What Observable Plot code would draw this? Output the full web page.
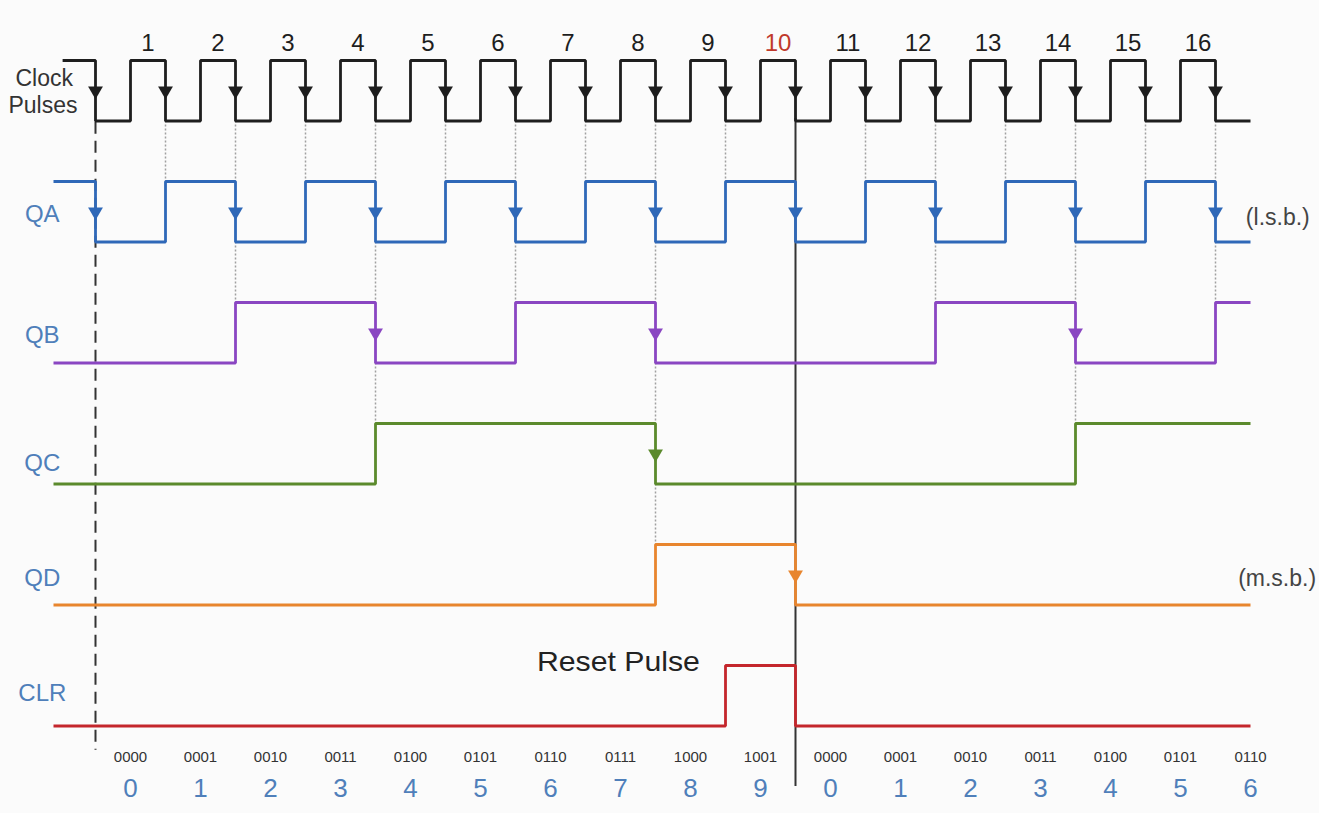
<!DOCTYPE html>
<html><head><meta charset="utf-8">
<script src="https://cdn.jsdelivr.net/npm/d3@7"></script>
<script src="https://cdn.jsdelivr.net/npm/@observablehq/plot@0.6"></script>
<style>body{margin:0;background:#fbfbfb;}svg{display:block;}</style>
</head><body><div id="chart"></div>
<script>
// Signals: name, row, initial level, toggle times (in clock-edge units), start time
const signalNames = ["Clock", "QA", "QB", "QC", "QD", "CLR"];
const signalColors = ["#1e1e1e", "#2f68b8", "#8a46c2", "#5b8a2c", "#e8852e", "#c4262c"];
const initialLevels = [1, 1, 0, 0, 0, 0];
const startTimes = [-0.47, -0.6, -0.6, -0.6, -0.6, -0.6];
const endTime = 16.5;
const clockToggles = [0,0.5,1,1.5,2,2.5,3,3.5,4,4.5,5,5.5,6,6.5,7,7.5,8,8.5,9,9.5,10,10.5,11,11.5,12,12.5,13,13.5,14,14.5,15,15.5,16];
const qaToggles = [0,1,2,3,4,5,6,7,8,9,10,11,12,13,14,15,16];
const qbToggles = [2,4,6,8,12,14,16];
const qcToggles = [4,8,14];
const qdToggles = [8,10];
const clrToggles = [9,10];
const toggles = [clockToggles, qaToggles, qbToggles, qcToggles, qdToggles, clrToggles];

// falling-edge arrows per signal (times)
const clockArrows = [0,1,2,3,4,5,6,7,8,9,10,11,12,13,14,15,16];
const qaArrows = [0,2,4,6,8,10,12,14,16];
const qbArrows = [4,8,14];
const qcArrows = [8];
const qdArrows = [10];
const arrowLists = [clockArrows, qaArrows, qbArrows, qcArrows, qdArrows, []];

// dotted connectors from row r (low) to row r+1 (high) at time t
const connClockQA = [1,2,3,4,5,6,7,8,9,11,12,13,14,15,16];
const connQAQB = [2,4,6,8,12,14,16];
const connQBQC = [4,8,14];
const connQCQD = [8];
const connLists = [connClockQA, connQAQB, connQBQC, connQCQD];

const clockNumbers = ["1","2","3","4","5","6","7","8","9","10","11","12","13","14","15","16"];
const binaryLabels = ["0000","0001","0010","0011","0100","0101","0110","0111","1000","1001","0000","0001","0010","0011","0100","0101","0110"];
const decimalLabels = ["0","1","2","3","4","5","6","7","8","9","0","1","2","3","4","5","6"];
const rowLabels = ["QA","QB","QC","QD","CLR"];
const rowLabelY = [1.27, 2.27, 3.33, 4.28, 5.23];

// build step data
const yOf = (row, level) => row + (level ? 0 : 0.5);
const stepData = [];
toggles.forEach((tg, row) => {
  let lvl = initialLevels[row];
  stepData.push({name: signalNames[row], t: startTimes[row], y: yOf(row, lvl)});
  for (const t of tg) { lvl = 1 - lvl; stepData.push({name: signalNames[row], t, y: yOf(row, lvl)}); }
  stepData.push({name: signalNames[row], t: endTime, y: yOf(row, lvl)});
});
const arrowData = [];
arrowLists.forEach((a, row) => a.forEach(t => arrowData.push({name: signalNames[row], t, y: row + 0.25})));
const connData = [];
connLists.forEach((a, row) => a.forEach(t => connData.push({t, y1: row + 0.5, y2: row + 1})));

const font = "Liberation Sans, Arial, sans-serif";
const labelBlue = "#4f7fba";
const chart = Plot.plot({
  width: 1319, height: 813,
  margin: 0,
  style: {background: "#fbfbfb", fontFamily: font},
  x: {domain: [0, 16], range: [95, 1215], axis: null},
  y: {domain: [0, 5], range: [60, 665], axis: null},
  color: {domain: signalNames, range: signalColors},
  marks: [
    Plot.ruleX(connData, {x: "t", y1: "y1", y2: "y2", stroke: "#a0a0a0", strokeWidth: 1.5, strokeDasharray: "2,2"}),
    Plot.ruleX([0], {y1: 0.51, y2: 5.7, stroke: "#333", strokeWidth: 2, strokeDasharray: "12,7"}),
    Plot.ruleX([10], {y1: 0.48, y2: 6.0, stroke: "#333", strokeWidth: 2}),
    Plot.line(stepData, {x: "t", y: "y", z: "name", stroke: "name", strokeWidth: 2.8, curve: "step-after", strokeLinejoin: "miter", strokeLinecap: "butt"}),
    Plot.dot(arrowData, {x: "t", y: "y", fill: "name", symbol: "triangle", rotate: 180, r: 5.5, stroke: "none"}),
    Plot.text(clockNumbers, {x: (d, i) => i + 0.75, y: -0.14, text: d => d, fontSize: 24, fill: (d) => d === "10" ? "#c0392b" : "#1e1e1e"}),
    Plot.text(["Clock"], {x: -1.143, y: 0.15, text: d => d, fontSize: 23, textAnchor: "start", fill: "#333"}),
    Plot.text(["Pulses"], {x: -1.243, y: 0.372, text: d => d, fontSize: 23, textAnchor: "start", fill: "#333"}),
    Plot.text(rowLabels, {x: -0.76, y: (d, i) => rowLabelY[i], text: d => d, fontSize: 24, fill: labelBlue}),
    Plot.text(["(l.s.b.)"], {x: 16.89, y: 1.3, text: d => d, fontSize: 23, fill: "#444"}),
    Plot.text(["(m.s.b.)"], {x: 16.88, y: 4.28, text: d => d, fontSize: 23, fill: "#444"}),
    Plot.text(["Reset Pulse"], {x: 7.47, y: 4.97, text: d => d, fontSize: 28, fill: "#222"}),
    Plot.text(binaryLabels, {x: (d, i) => i + 0.5, y: 5.76, text: d => d, fontSize: 15, fill: "#333"}),
    Plot.text(decimalLabels, {x: (d, i) => i + 0.5, y: 6.02, text: d => d, fontSize: 26, fill: labelBlue})
  ]
});
document.getElementById("chart").appendChild(chart);
d3.select(chart).selectAll("text").filter(function() { return this.textContent === "Reset Pulse"; })
  .attr("textLength", 163).attr("lengthAdjust", "spacingAndGlyphs");
</script></body></html>
